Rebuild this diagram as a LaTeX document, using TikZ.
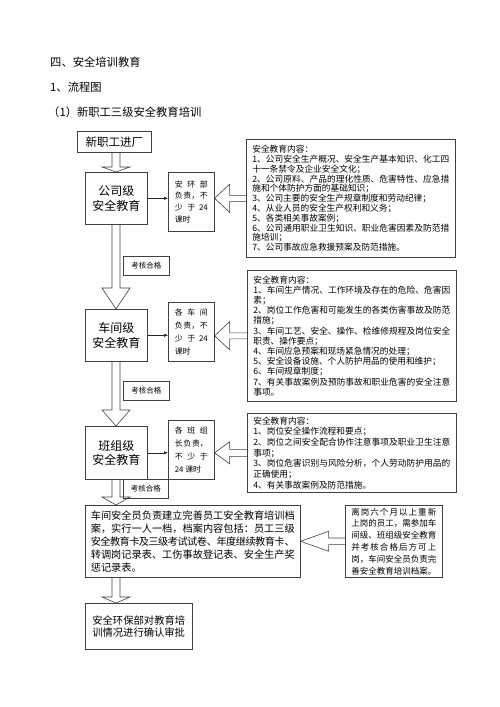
\documentclass[tikz,border=0pt]{standalone}
\usepackage{fontspec}
\usetikzlibrary{arrows.meta, calc}
\newfontfamily\cjk{Noto Sans CJK SC}
\XeTeXlinebreaklocale "zh"
\XeTeXlinebreakskip=0pt plus 2pt minus 1pt
\tolerance=10000

% hollow block arrows
\newcommand{\blockdown}[3]{%
\draw[blockarrow] let \p1=(spine |- #1.south), \p2=(spine |- #2.north) in
(\x1-4pt,\y1) -- (\x1-4pt,\y2+#3) -- (\x1-14pt,\y2+#3) -- (\x1,\y2)
-- (\x1+14pt,\y2+#3) -- (\x1+4pt,\y2+#3) -- (\x1+4pt,\y1);}
\newcommand{\blockleft}[5]{%
\draw[blockarrow] let \p1=(#1.west), \p2=(#2.east |- #1.west) in
(\x1,\y1+#5) -- (\x2+#3,\y1+#5) -- (\x2+#3,\y1+#4) -- (\x2,\y1)
-- (\x2+#3,\y1-#4) -- (\x2+#3,\y1-#5) -- (\x1,\y1-#5);}

\begin{document}
\begin{tikzpicture}[
x=1pt, y=-1pt,
font=\cjk,
heading/.style={anchor=west, inner sep=0pt, font=\cjk\fontsize{11.3}{13}\selectfont},
box/.style={draw=black!75,
line width=0.6pt,
rectangle,
inner sep=0pt,
anchor=north west},
level/.style={box, minimum width=62pt, minimum height=52pt, align=center, font=\cjk\fontsize{12}{14.5}\selectfont},
duty/.style={box, minimum width=46pt, minimum height=59pt, text width=33pt, inner xsep=6.5pt, align=justify},
content/.style={box, minimum width=209pt, text width=197pt, inner xsep=6pt, align=justify},
pass/.style={box, minimum width=46pt, minimum height=19pt, font=\cjk\fontsize{7.5}{9}\selectfont},
link/.style={-{Latex[length=4pt,width=3.5pt]}, line width=0.6pt, draw=black!85},
blockarrow/.style={draw=black!75, line width=0.6pt}
]
\useasboundingbox (0,0) rectangle (500,707);
\coordinate (spine) at (116,0);

\node[heading] (title) at (50,62) {四、安全培训教育};
\node[heading] (sub1) at (50,87) {1、流程图};
\node[heading] (sub2) at (48,112) {（1）新职工三级安全教育培训};

\node[box, minimum width=74pt, minimum height=21pt, font=\cjk\fontsize{11.5}{13}\selectfont] (entry) at (77,131) {新职工进厂};

\node[level] (level1) at (85,172) {公司级\\安全教育};
\node[level] (level2) at (85,309) {车间级\\安全教育};
\node[level, minimum height=53pt] (level3) at (85,426) {班组级\\安全教育};

\node[duty, font=\cjk\fontsize{7.9}{11.7}\selectfont] (duty1) at (168,172) {安环部\linebreak 负责，不\linebreak 少于 24\linebreak 课时};
\node[duty, font=\cjk\fontsize{7.9}{12.8}\selectfont] (duty2) at (168,302) {各车间\linebreak 负责，不\linebreak 少于 24\linebreak 课时};
\node[duty, font=\cjk\fontsize{7.9}{12.8}\selectfont] (duty3) at (168,420) {各班组\linebreak 长负责，\linebreak 不少于\linebreak 24 课时};

\node[content, minimum height=118pt, font=\cjk\fontsize{8.7}{9.8}\selectfont] (content1) at (246,139) {安全教育内容：\\
1、公司安全生产概况、安全生产基本知识、化工四\linebreak
十一条禁令及企业安全文化；\\
2、公司原料、产品的理化性质、危害特性、应急措\linebreak
施和个体防护方面的基础知识；\\
3、公司主要的安全生产规章制度和劳动纪律；\\
4、从业人员的安全生产权利和义务；\\
5、各类相关事故案例；\\
6、公司通用职业卫生知识、职业危害因素及防范措\linebreak
施培训；\\
7、公司事故应急救援预案及防范措施。};
\node[content, minimum height=131pt, font=\cjk\fontsize{8.7}{10.2}\selectfont] (content2) at (247,270) {安全教育内容：\\
1、车间生产情况、工作环境及存在的危险、危害因\linebreak
素；\\
2、岗位工作危害和可能发生的各类伤害事故及防范\linebreak
措施；\\
3、车间工艺、安全、操作、检维修规程及岗位安全\linebreak
职责、操作要点；\\
4、车间应急预案和现场紧急情况的处理；\\
5、安全设备设施、个人防护用品的使用和维护；\\
6、车间规章制度；\\
7、有关事故案例及预防事故和职业危害的安全注意\linebreak
事项。};
\node[content, minimum height=79pt, font=\cjk\fontsize{8.7}{10.7}\selectfont] (content3) at (247,413) {安全教育内容：\\
1、岗位安全操作流程和要点；\\
2、岗位之间安全配合协作注意事项及职业卫生注意\linebreak
事项；\\
3、岗位危害识别与风险分析，个人劳动防护用品的\linebreak
正确使用；\\
4、有关事故案例及防范措施。};

\node[pass] (pass1) at (123,256) {考核合格};
\node[pass] (pass2) at (123,381) {考核合格};
\node[pass, minimum width=45pt] (pass3) at (123,479) {考核合格};

\node[box, minimum width=215pt, minimum height=72pt, text width=204pt, inner xsep=5.5pt, align=justify, font=\cjk\fontsize{10.2}{13}\selectfont] (record) at (85,505) {车间安全员负责建立完善员工安全教育培训档\linebreak
案，实行一人一档，档案内容包括：员工三级\linebreak
安全教育卡及三级考试试卷、年度继续教育卡、\linebreak
转调岗记录表、工伤事故登记表、安全生产奖\linebreak
惩记录表。};
\node[box, minimum width=97pt, minimum height=72pt, text width=85pt, inner xsep=6pt, align=justify, font=\cjk\fontsize{8.5}{11.8}\selectfont] (note) at (345,505) {离岗六个月以上重新\linebreak
上岗的员工，需参加车\linebreak
间级、班组级安全教育\linebreak
并考核合格后方可上\linebreak
岗，车间安全员负责完\linebreak
善安全教育培训档案。};
\node[box, minimum width=107pt, minimum height=46pt, text width=93pt, inner xsep=7pt, align=justify, font=\cjk\fontsize{10.3}{12.5}\selectfont] (approve) at (85,603) {安全环保部对教育培\linebreak
训情况进行确认审批};

\blockdown{entry}{level1}{5pt}
\blockdown{level1}{level2}{21pt}
\blockdown{level2}{level3}{16pt}
\blockdown{level3}{record}{8pt}
\blockdown{record}{approve}{6pt}

\draw[link] (level1.east) -- (level1.east -| duty1.west);
\draw[link] (level2.east) -- (level2.east -| duty2.west);
\draw[link] (level3.east) -- (level3.east -| duty3.west);

\blockleft{content1}{duty1}{15pt}{14pt}{3pt}
\blockleft{content2}{duty2}{15pt}{14pt}{3pt}
\blockleft{content3}{duty3}{15pt}{11pt}{3.5pt}
\blockleft{note}{record}{28pt}{10pt}{3.3pt}

\end{tikzpicture}
\end{document}
